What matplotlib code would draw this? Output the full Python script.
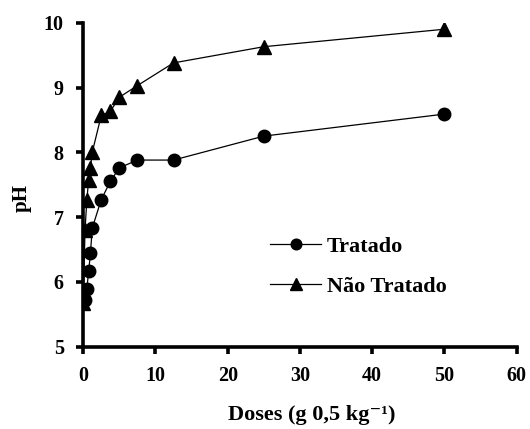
import matplotlib.pyplot as plt

# doses (g 0,5 kg-1) and pH readings
doses = [0, 0.25, 0.5, 0.75, 1.0, 1.25, 2.5, 3.75, 5, 7.5, 12.5, 25, 50]
ph_tratado = [5.70, 5.72, 5.89, 6.16, 6.44, 6.83, 7.27, 7.55, 7.76, 7.88, 7.88, 8.25, 8.59]
ph_nao_tratado = [5.67, 6.80, 7.26, 7.57, 7.76, 8.00, 8.57, 8.63, 8.85, 9.03, 9.38, 9.63, 9.90]

plt.rcParams['font.family'] = ['Liberation Serif', 'DejaVu Serif']
plt.rcParams['font.weight'] = 'bold'

fig = plt.figure(figsize=(5.3, 4.29), dpi=100)
ax = fig.add_axes([0.157, 0.192, 0.818, 0.755])

ax.plot(doses, ph_tratado, color='black', lw=0.9, marker='o', ms=9, label='Tratado')
ax.plot(doses, ph_nao_tratado, color='black', lw=0.9, marker='^', ms=10, label='Não Tratado')

ax.set_xlim(0, 60)
ax.set_ylim(5, 10)
ax.set_xticks([0, 10, 20, 30, 40, 50, 60])
ax.set_yticks([5, 6, 7, 8, 9, 10])

for s in ['top', 'right']:
    ax.spines[s].set_visible(False)
for s in ['left', 'bottom']:
    ax.spines[s].set_linewidth(2.6)
ax.tick_params(width=2.6, length=5, labelsize=14.5, pad=9)
for lab in ax.get_xticklabels() + ax.get_yticklabels():
    lab.set_fontweight('bold')

ax.set_xlabel('Doses (g 0,5 kg⁻¹)', fontsize=16, fontweight='bold', va='center')
ax.xaxis.set_label_coords(0.528, -0.21)
ax.set_ylabel('pH', fontsize=15, fontweight='bold', va='center')
ax.yaxis.set_label_coords(-0.143, 0.46)

leg = ax.legend(loc='upper left', bbox_to_anchor=(0.431, 0.34), frameon=False, borderpad=0,
                borderaxespad=0, fontsize=16, handlelength=2.3, handletextpad=0.27,
                labelspacing=0.85, markerscale=0.85)
for t in leg.get_texts():
    t.set_fontweight('bold')

fig.savefig('out.png', dpi=100)
